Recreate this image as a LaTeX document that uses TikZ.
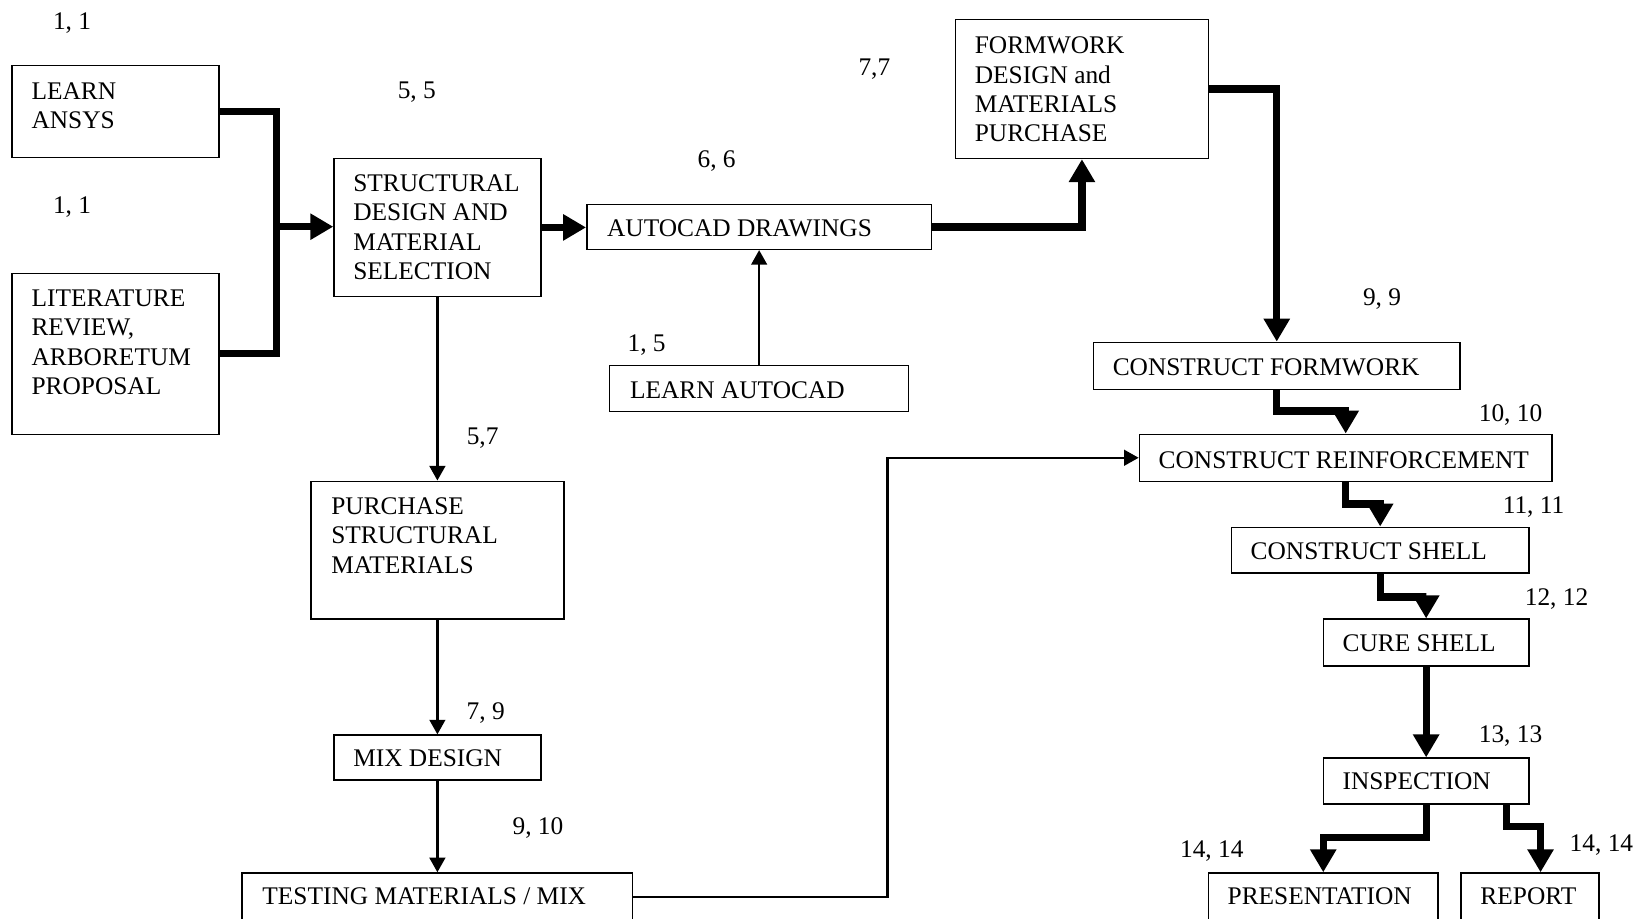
\documentclass[tikz,border=0pt]{standalone}
\usepackage{fontspec}
\setmainfont{Liberation Serif}
\usetikzlibrary{arrows.meta}
\begin{document}
\begin{tikzpicture}[x=1pt,y=-1pt,
  box/.style={draw, line width=1.4pt, inner sep=0pt, anchor=north west},
  txt/.style={inner sep=0pt, align=left, font=\fontsize{24.3}{28.2}\selectfont},
  lab/.style={inner sep=0pt, font=\fontsize{24.3}{28.2}\selectfont},
  thickarrow/.style={line width=7pt, line join=miter, -{Triangle[length=22pt,width=24pt]}},
  thickline/.style={line width=7pt, line join=miter},
  thinarrow/.style={line width=2.4pt, line join=miter, -{Triangle[length=14pt,width=15pt]}}
]
\useasboundingbox (0,0) rectangle (1568,879);
\clip (0,0) rectangle (1568,879);

% boxes
\node[box, minimum width=198pt, minimum height=88pt] (ansys) at (11,62) {};
\node[box, minimum width=198pt, minimum height=154pt] (lit) at (11,261) {};
\node[box, minimum width=198pt, minimum height=132pt] (struct) at (319,151) {};
\node[box, minimum width=330pt, minimum height=43pt] (autocad) at (561,195) {};
\node[box, minimum width=286pt, minimum height=44pt] (lautocad) at (583,349) {};
\node[box, minimum width=242pt, minimum height=133pt] (formwork) at (914,18) {};
\node[box, minimum width=242pt, minimum height=132pt] (purchase) at (297,460) {};
\node[box, minimum width=198pt, minimum height=43pt] (mix) at (319,703) {};
\node[box, minimum width=374pt, minimum height=46pt] (testing) at (231,835) {};
\node[box, minimum width=351pt, minimum height=45pt] (cformwork) at (1046,327) {};
\node[box, minimum width=395pt, minimum height=45pt] (creinf) at (1090,415) {};
\node[box, minimum width=285pt, minimum height=44pt] (cshell) at (1178,504) {};
\node[box, minimum width=197pt, minimum height=45pt] (cure) at (1266,592) {};
\node[box, minimum width=197pt, minimum height=44pt] (insp) at (1266,725) {};
\node[box, minimum width=220pt, minimum height=46pt] (pres) at (1156,835) {};
\node[box, minimum width=132pt, minimum height=46pt] (report) at (1398,835) {};

% box texts
\node[txt, anchor=north west] (t-ansys) at (30,79) {LEARN\\ANSYS};
\node[txt, anchor=north west] (t-lit) at (30,277) {LITERATURE\\REVIEW,\\ARBORETUM\\PROPOSAL};
\node[txt, anchor=north west] (t-struct) at (338,167) {STRUCTURAL\\DESIGN AND\\MATERIAL\\SELECTION};
\node[txt, anchor=base west] (t-autocad) at (581,226) {AUTOCAD DRAWINGS};
\node[txt, anchor=base west] (t-lautocad) at (603,381) {LEARN AUTOCAD};
\node[txt, anchor=north west] (t-formwork) at (933,35) {FORMWORK\\DESIGN and\\MATERIALS\\PURCHASE};
\node[txt, anchor=north west] (t-purchase) at (317,476) {PURCHASE\\STRUCTURAL\\MATERIALS};
\node[txt, anchor=base west] (t-mix) at (338,734) {MIX DESIGN};
\node[txt, anchor=base west] (t-testing) at (251,866) {TESTING MATERIALS / MIX};
\node[txt, anchor=base west] (t-cformwork) at (1065,359) {CONSTRUCT FORMWORK};
\node[txt, anchor=base west] (t-creinf) at (1109,448) {CONSTRUCT REINFORCEMENT};
\node[txt, anchor=base west] (t-cshell) at (1197,536) {CONSTRUCT SHELL};
\node[txt, anchor=base west] (t-cure) at (1285,624) {CURE SHELL};
\node[txt, anchor=base west] (t-insp) at (1285,756) {INSPECTION};
\node[txt, anchor=base west] (t-pres) at (1175,866) {PRESENTATION};
\node[txt, anchor=base west] (t-report) at (1417,866) {REPORT};

% labels
\node[lab] (l1) at (69,22) {1, 1};
\node[lab] (l2) at (69,198) {1, 1};
\node[lab] (l3) at (399,88) {5, 5};
\node[lab] (l4) at (686,154) {6, 6};
\node[lab] (l5) at (837,66) {7,7};
\node[lab] (l6) at (619,330) {1, 5};
\node[lab] (l7) at (462,419) {5,7};
\node[lab] (l8) at (465,683) {7, 9};
\node[lab] (l9) at (515,793) {9, 10};
\node[lab] (l10) at (1323,286) {9, 9};
\node[lab] (l11) at (1446,397) {10, 10};
\node[lab] (l12) at (1468,485) {11, 11};
\node[lab] (l13) at (1490,573) {12, 12};
\node[lab] (l14) at (1446,705) {13, 13};
\node[lab] (l15) at (1160,815) {14, 14};
\node[lab] (l16) at (1533,809) {14, 14};

% thick connectors
\coordinate (j1) at (265,217);
\draw[thickline] (ansys.east) -| (j1) |- (lit.east);
\draw[thickarrow] (j1) -- (j1 -| struct.west);
\draw[thickarrow] (struct.east) -- (struct.east -| autocad.west);
\draw[thickarrow] (autocad.east) -| (formwork.south);
\draw[thickarrow] (formwork.east) -| (cformwork.north);
\draw[thickarrow] (cformwork.south) -- ++(0,20) -| (creinf.north);
\draw[thickarrow] (creinf.south) -- ++(0,21) -| (cshell.north);
\draw[thickarrow] (cshell.south) -- ++(0,22) -| (cure.north);
\draw[thickarrow] (cure.south) -- (insp.north);
\draw[thickarrow] (insp.south) -- ++(0,31) -| (pres.north);
\coordinate (rs) at ([xshift=-22pt]insp.south east);
\coordinate (re) at ([xshift=10pt]report.north);
\draw[thickarrow] (rs) -- ++(0,21) -| (re);

% thin connectors
\draw[thinarrow] (struct.south) -- (purchase.north);
\draw[thinarrow] (purchase.south) -- (mix.north);
\draw[thinarrow] (mix.south) -- (testing.north);
\draw[thinarrow] (lautocad.north) -- (autocad.south);
\draw[thinarrow] (testing.east) -- ++(243,0) |- (creinf.west);
\end{tikzpicture}
\end{document}
